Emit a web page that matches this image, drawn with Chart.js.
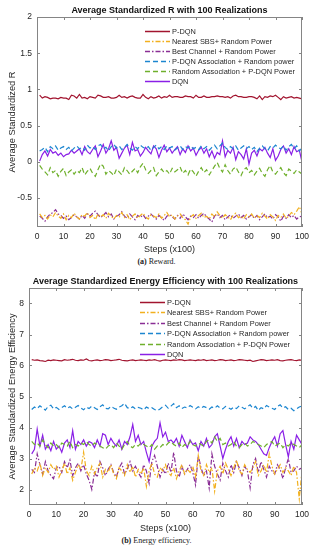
<!DOCTYPE html>
<html>
<head>
<meta charset="utf-8">
<script src="https://cdn.jsdelivr.net/npm/chart.js@4.4.1/dist/chart.umd.min.js"></script>
<style>
  body { margin: 0; background: #fff; width: 315px; height: 550px; position: relative; overflow: hidden; }
  canvas { position: absolute; left: 0; }
  .cap { position: absolute; left: 0; width: 313px; text-align: center; font: 8px 'Liberation Serif', 'DejaVu Serif', serif; color: #222; }
  .cap b { font-weight: bold; }
</style>
</head>
<body>
<canvas id="reward-chart" width="315" height="256" style="top:0"></canvas>
<div class="cap" style="top:257px"><b>(a)</b> Reward.</div>
<canvas id="ee-chart" width="315" height="265" style="top:270px"></canvas>
<div class="cap" style="top:536px"><b>(b)</b> Energy efficiency.</div>
<script>
// series names + styles (same for both panels)
const seriesNames = [
    'P-DQN',
    'Nearest SBS+ Random Power',
    'Best Channel + Random Power',
    'P-DQN Association + Random power',
    'Random Association + P-DQN Power',
    'DQN'
];
const seriesColors = ['#a2142f', '#f2b01e', '#8a2e95', '#1c86d0', '#6fb02c', '#8a1fe6'];
const seriesDash = [[], [5, 2, 1.5, 2], [5, 2, 1.5, 2], [5, 3], [5, 3], []];

const steps = Array.from({ length: 100 }, (_, i) => i + 1);
const xTicks = [0, 10, 20, 30, 40, 50, 60, 70, 80, 90, 100];

// (a) reward
const rewardTicks = [-0.5, 0, 0.5, 1, 1.5, 2];
const rewardPdqn = [
    0.92,0.88,0.90,0.89,0.87,0.88,0.88,0.87,0.89,0.88,
    0.88,0.86,0.92,0.91,0.88,0.93,0.88,0.89,0.87,0.90,
    0.89,0.88,0.92,0.91,0.89,0.89,0.90,0.88,0.88,0.89,
    0.92,0.89,0.90,0.88,0.90,0.91,0.89,0.88,0.88,0.93,
    0.89,0.87,0.90,0.88,0.89,0.91,0.88,0.90,0.89,0.92,
    0.89,0.90,0.90,0.89,0.89,0.91,0.90,0.90,0.88,0.92,
    0.89,0.89,0.91,0.89,0.89,0.90,0.90,0.91,0.90,0.90,
    0.89,0.90,0.88,0.91,0.92,0.90,0.90,0.89,0.89,0.90,
    0.90,0.89,0.87,0.91,0.86,0.90,0.89,0.91,0.90,0.92,
    0.89,0.86,0.90,0.88,0.89,0.90,0.88,0.89,0.88,0.87
];
const rewardNearest = [
    -0.72,-0.77,-0.74,-0.79,-0.73,-0.76,-0.70,-0.75,-0.78,-0.72,
    -0.80,-0.74,-0.77,-0.71,-0.76,-0.79,-0.73,-0.75,-0.70,-0.77,
    -0.74,-0.80,-0.72,-0.76,-0.73,-0.78,-0.71,-0.75,-0.79,-0.74,
    -0.76,-0.70,-0.77,-0.73,-0.80,-0.75,-0.72,-0.78,-0.74,-0.71,
    -0.76,-0.79,-0.73,-0.75,-0.77,-0.72,-0.78,-0.74,-0.70,-0.76,
    -0.73,-0.79,-0.75,-0.72,-0.77,-0.80,-0.86,-0.76,-0.73,-0.78,
    -0.74,-0.71,-0.77,-0.75,-0.79,-0.72,-0.76,-0.69,-0.74,-0.78,
    -0.73,-0.76,-0.80,-0.74,-0.71,-0.77,-0.75,-0.79,-0.73,-0.76,
    -0.72,-0.78,-0.74,-0.77,-0.71,-0.75,-0.79,-0.73,-0.76,-0.81,
    -0.74,-0.77,-0.72,-0.78,-0.75,-0.70,-0.73,-0.68,-0.62,-0.72
];
const rewardBest = [
    -0.75,-0.78,-0.82,-0.76,-0.72,-0.70,-0.66,-0.72,-0.74,-0.78,
    -0.75,-0.80,-0.77,-0.73,-0.76,-0.79,-0.74,-0.78,-0.72,-0.75,
    -0.71,-0.68,-0.73,-0.77,-0.74,-0.70,-0.76,-0.72,-0.79,-0.75,
    -0.73,-0.69,-0.75,-0.78,-0.72,-0.76,-0.80,-0.74,-0.77,-0.73,
    -0.78,-0.75,-0.72,-0.76,-0.79,-0.74,-0.77,-0.81,-0.75,-0.73,
    -0.76,-0.79,-0.74,-0.78,-0.72,-0.76,-0.80,-0.75,-0.77,-0.73,
    -0.78,-0.74,-0.71,-0.76,-0.79,-0.83,-0.75,-0.72,-0.77,-0.74,
    -0.80,-0.76,-0.73,-0.78,-0.75,-0.72,-0.77,-0.74,-0.79,-0.76,
    -0.73,-0.78,-0.74,-0.80,-0.76,-0.72,-0.77,-0.75,-0.79,-0.73,
    -0.76,-0.82,-0.75,-0.78,-0.73,-0.77,-0.74,-0.79,-0.76,-0.75
];
const rewardPdqnAssoc = [
    0.15,0.17,0.20,0.14,0.21,0.18,0.22,0.16,0.19,0.21,
    0.17,0.20,0.15,0.19,0.22,0.18,0.20,0.16,0.23,0.19,
    0.21,0.17,0.22,0.24,0.18,0.20,0.15,0.21,0.24,0.19,
    0.22,0.17,0.20,0.24,0.19,0.16,0.21,0.18,0.23,0.20,
    0.18,0.21,0.16,0.20,0.23,0.18,0.21,0.17,0.22,0.19,
    0.21,0.16,0.19,0.22,0.17,0.21,0.19,0.22,0.18,0.20,
    0.17,0.22,0.18,0.21,0.16,0.20,0.23,0.18,0.22,0.26,
    0.20,0.17,0.21,0.18,0.22,0.16,0.19,0.22,0.18,0.21,
    0.17,0.20,0.14,0.19,0.22,0.18,0.15,0.21,0.19,0.23,
    0.20,0.18,0.22,0.16,0.21,0.24,0.18,0.22,0.15,0.19
];
const rewardRandomAssoc = [
    -0.05,-0.10,-0.14,-0.18,-0.08,-0.15,-0.12,-0.20,-0.13,-0.09,
    -0.19,-0.14,-0.11,-0.17,-0.12,-0.15,-0.08,-0.18,-0.13,-0.09,
    -0.16,-0.20,-0.11,-0.03,-0.06,-0.17,-0.12,-0.15,-0.19,-0.10,
    -0.14,-0.18,-0.08,-0.12,-0.17,-0.13,-0.09,-0.15,-0.07,-0.02,
    -0.11,-0.16,-0.12,-0.08,-0.19,-0.14,-0.10,-0.15,-0.12,-0.17,
    -0.09,-0.14,-0.11,-0.07,-0.16,-0.12,-0.18,-0.10,-0.14,-0.20,
    -0.13,-0.08,-0.15,-0.11,-0.18,-0.12,-0.06,-0.01,-0.09,-0.14,
    -0.04,-0.12,-0.17,-0.10,-0.07,-0.14,-0.19,-0.11,-0.08,-0.15,
    -0.12,-0.18,-0.13,-0.09,-0.16,-0.20,-0.11,-0.05,-0.14,-0.17,
    -0.12,-0.08,-0.15,-0.19,-0.10,-0.13,-0.16,-0.11,-0.14,-0.17
];
const rewardDqn = [
    0.01,0.10,0.15,0.08,0.17,0.12,0.14,0.09,0.12,0.07,
    0.10,0.11,0.16,0.12,0.15,0.18,0.10,0.21,0.14,0.11,
    0.17,0.22,0.07,0.15,0.24,0.12,0.18,0.29,0.16,0.20,
    0.05,0.12,0.19,0.23,0.10,0.27,0.15,0.17,0.08,0.13,
    0.20,0.15,0.11,0.22,0.18,0.06,0.16,0.23,0.14,0.19,
    0.12,0.17,0.21,0.10,0.18,0.13,0.22,0.15,0.19,0.09,
    0.16,0.20,0.12,0.18,0.07,0.15,0.05,0.13,0.10,0.29,
    0.07,0.16,0.12,0.20,0.03,0.14,0.10,0.04,0.18,-0.03,
    0.12,0.16,0.08,0.18,0.15,0.20,0.12,0.06,0.18,0.02,
    0.08,0.17,0.22,0.12,0.18,0.10,0.21,0.14,0.16,0.00
];

// (b) energy efficiency
const eeTicks = [2, 3, 4, 5, 6, 7, 8];
const eePdqn = [
    6.19,6.17,6.18,6.16,6.15,6.13,6.17,6.16,6.18,6.17,
    6.16,6.15,6.19,6.17,6.18,6.20,6.17,6.16,6.18,6.17,
    6.21,6.16,6.15,6.17,6.18,6.16,6.17,6.19,6.18,6.16,
    6.17,6.18,6.20,6.17,6.16,6.15,6.17,6.18,6.16,6.17,
    6.18,6.17,6.16,6.18,6.17,6.19,6.16,6.14,6.17,6.18,
    6.17,6.16,6.18,6.17,6.19,6.18,6.16,6.17,6.18,6.17,
    6.16,6.18,6.17,6.19,6.16,6.17,6.18,6.16,6.17,6.19,
    6.18,6.16,6.17,6.18,6.16,6.17,6.19,6.18,6.17,6.16,
    6.17,6.13,6.15,6.17,6.19,6.18,6.16,6.17,6.18,6.17,
    6.19,6.16,6.15,6.17,6.18,6.19,6.17,6.16,6.18,6.17
];
const eeNearest = [
    2.50,2.70,2.60,2.85,2.45,2.70,2.55,2.80,2.65,2.75,
    2.40,2.60,2.85,2.50,2.70,2.30,2.55,2.80,2.65,3.20,
    2.60,2.45,2.75,2.50,2.70,2.85,2.40,2.65,2.55,2.80,
    2.50,2.35,2.70,2.60,2.45,2.80,2.55,2.75,2.40,2.65,
    2.50,2.70,2.10,2.60,2.85,2.50,2.40,2.70,2.60,2.80,
    2.55,2.45,2.70,2.35,2.60,2.80,2.50,2.65,2.55,2.75,
    2.40,3.10,2.60,2.45,2.80,2.55,2.70,1.95,2.60,2.75,
    2.50,2.85,2.65,2.45,2.70,2.95,2.60,2.50,2.80,2.65,
    2.55,2.70,2.90,2.45,2.60,2.80,2.55,3.15,2.75,2.50,
    2.65,2.80,2.55,2.70,2.60,2.45,2.75,2.55,1.70,2.60
];
const eeBest = [
    2.65,2.55,3.15,2.80,2.50,2.90,2.60,2.45,2.35,2.70,
    2.75,2.55,2.90,2.70,2.95,2.45,2.70,2.85,2.60,2.80,
    2.50,2.30,2.00,2.55,2.40,2.90,2.70,2.45,2.65,2.80,
    2.55,2.40,2.70,2.85,2.50,2.65,2.90,2.60,2.75,2.55,
    2.40,2.80,2.60,2.20,2.90,3.10,2.75,2.40,2.65,2.50,
    2.85,2.55,3.20,2.60,2.40,2.75,2.50,2.65,2.80,2.55,
    2.15,3.10,2.70,2.45,2.60,2.05,3.15,2.75,2.50,2.30,
    2.85,2.60,2.40,2.80,2.55,2.90,2.70,2.45,2.75,2.60,
    2.05,2.80,3.00,2.55,2.90,2.65,2.40,2.75,2.60,2.50,
    2.80,2.65,2.35,2.70,3.00,2.55,2.60,2.75,2.65,2.70
];
const eePdqnAssoc = [
    4.58,4.66,4.61,4.70,4.63,4.56,4.68,4.72,4.60,4.65,
    4.58,4.64,4.70,4.62,4.67,4.60,4.65,4.71,4.63,4.57,
    4.66,4.61,4.69,4.64,4.58,4.67,4.73,4.62,4.60,4.68,
    4.63,4.59,4.66,4.70,4.78,4.64,4.61,4.67,4.60,4.65,
    4.62,4.57,4.66,4.61,4.64,4.58,4.54,4.60,4.67,4.72,
    4.62,4.69,4.77,4.64,4.70,4.61,4.66,4.63,4.71,4.65,
    4.60,4.67,4.62,4.68,4.64,4.59,4.66,4.62,4.70,4.63,
    4.60,4.68,4.64,4.59,4.66,4.61,4.70,4.65,4.60,4.67,
    4.73,4.62,4.68,4.55,4.64,4.60,4.71,4.66,4.62,4.58,
    4.68,4.73,4.63,4.67,4.58,4.62,4.54,4.60,4.66,4.69
];
const eeRandomAssoc = [
    3.55,3.45,3.50,3.40,3.60,3.45,3.35,3.50,3.40,3.45,
    3.35,3.50,3.45,3.40,3.55,3.35,3.45,3.40,3.50,3.45,
    3.55,3.45,3.40,3.50,3.45,3.40,3.35,3.30,3.40,3.45,
    3.35,3.50,3.40,3.30,3.45,3.55,3.40,3.35,3.45,3.40,
    3.50,3.45,3.40,3.35,3.45,3.30,3.40,3.35,3.45,3.40,
    3.50,3.55,3.45,3.40,3.50,3.35,3.45,3.40,3.55,3.45,
    3.40,3.50,3.45,3.40,3.55,3.60,3.50,3.70,3.55,3.65,
    3.45,3.50,3.40,3.45,3.55,3.40,3.35,3.45,3.50,3.40,
    3.45,3.55,3.50,3.45,3.40,3.35,3.45,3.50,3.55,3.40,
    3.45,3.50,3.35,3.45,3.40,3.50,3.45,3.40,3.35,3.45
];
const eeDqn = [
    3.15,3.30,3.95,3.40,3.75,3.30,3.45,3.25,3.55,3.30,
    3.40,3.20,3.50,3.60,3.35,3.90,3.30,3.55,3.45,3.60,
    3.40,3.55,3.50,3.35,3.60,3.40,3.80,3.75,3.45,3.65,
    3.50,3.40,3.60,3.30,3.55,3.45,3.70,4.10,3.55,3.75,
    3.45,3.55,3.20,2.90,3.40,3.55,3.65,4.15,3.70,3.85,
    3.55,3.60,3.50,3.65,3.40,3.75,3.55,3.35,3.60,3.45,
    3.50,3.25,3.55,3.40,3.65,3.35,3.45,3.70,3.80,3.40,
    3.00,3.30,3.55,3.70,3.40,3.65,3.35,3.55,3.45,3.50,
    3.70,3.60,3.55,3.45,3.30,3.15,3.10,3.35,3.55,3.70,
    3.40,3.80,3.90,3.45,3.05,3.55,3.30,3.75,3.60,3.45
];

const FONT = "'Liberation Sans', Arial, sans-serif";
Chart.defaults.font.family = FONT;
Chart.defaults.color = '#262626';

/**
 * MATLAB style box with inward ticks on all four sides
 */
const boxTicks = {
    id: 'boxTicks',
    afterDatasetsDraw(chart) {
        const { ctx, chartArea: a, scales: { x, y } } = chart;
        ctx.save();
        ctx.strokeStyle = '#858585';
        ctx.lineWidth = 1;
        ctx.setLineDash([]);
        ctx.strokeRect(a.left + 0.5, a.top + 0.5, a.right - a.left - 1, a.bottom - a.top - 1);
        ctx.beginPath();
        for (const t of x.ticks) {
            const px = Math.round(x.getPixelForValue(t.value)) + 0.5;
            ctx.moveTo(px, a.bottom); ctx.lineTo(px, a.bottom - 3);
            ctx.moveTo(px, a.top); ctx.lineTo(px, a.top + 3);
        }
        for (const t of y.ticks) {
            const py = Math.round(y.getPixelForValue(t.value)) + 0.5;
            ctx.moveTo(a.left, py); ctx.lineTo(a.left + 3, py);
            ctx.moveTo(a.right, py); ctx.lineTo(a.right - 3, py);
        }
        ctx.stroke();
        ctx.restore();
    }
};

/**
 * title centred over the plot area + legend inside it
 */
const insideLegend = {
    id: 'insideLegend',
    afterDraw(chart, args, opts) {
        const { ctx, chartArea: a } = chart;
        ctx.save();
        ctx.textBaseline = 'middle';
        ctx.textAlign = 'center';
        ctx.fillStyle = '#111';
        ctx.font = `bold 9px ${FONT}`;
        ctx.fillText(opts.title, (a.left + a.right) / 2, opts.titleY);

        ctx.textAlign = 'left';
        ctx.font = `7.4px ${FONT}`;
        chart.data.datasets.forEach((ds, i) => {
            const x0 = a.left + opts.left;
            const y0 = Math.round(a.top + opts.top + i * opts.step) + 0.5;
            ctx.strokeStyle = ds.borderColor;
            ctx.lineWidth = 1.5;
            ctx.setLineDash(ds.borderDash);
            ctx.beginPath();
            ctx.moveTo(x0, y0);
            ctx.lineTo(x0 + opts.len, y0);
            ctx.stroke();
            ctx.fillStyle = '#262626';
            ctx.fillText(ds.label, x0 + opts.len + 2, y0);
        });
        ctx.restore();
    }
};

function makeDatasets(series) {
    return series.map((vals, i) => ({
        label: seriesNames[i],
        data: vals.map((v, j) => ({ x: steps[j], y: v })),
        borderColor: seriesColors[i],
        borderDash: seriesDash[i],
        borderWidth: 1.2,
        pointRadius: 0,
        tension: 0,
        fill: false,
    }));
}

function makeChart(id, cfg) {
    return new Chart(document.getElementById(id), {
        type: 'line',
        data: { datasets: makeDatasets(cfg.series) },
        plugins: [boxTicks, insideLegend],
        options: {
            responsive: false,
            animation: false,
            layout: { padding: { left: 0, right: 13, top: cfg.top, bottom: 0 } },
            plugins: {
                legend: { display: false },
                tooltip: { enabled: false },
                title: { display: false },
                insideLegend: cfg.legend,
            },
            scales: {
                x: {
                    type: 'linear',
                    min: 0,
                    max: 100,
                    afterBuildTicks: (s) => { s.ticks = xTicks.map(v => ({ value: v })); },
                    afterFit: (s) => { s.height = cfg.xHeight; },
                    grid: { display: false, drawTicks: false },
                    border: { display: false },
                    ticks: { font: { size: 8.5 }, padding: 5, color: '#262626', maxRotation: 0 },
                    title: { display: true, text: 'Steps (x100)', font: { size: 9 }, padding: { top: 0, bottom: 1 } },
                },
                y: {
                    min: cfg.yMin,
                    max: cfg.yMax,
                    afterBuildTicks: (s) => { s.ticks = cfg.yTicks.map(v => ({ value: v })); },
                    afterFit: (s) => { s.width = cfg.yWidth; },
                    grid: { display: false, drawTicks: false },
                    border: { display: false },
                    ticks: { font: { size: 8.5 }, padding: 5, color: '#262626', callback: (v) => String(v) },
                    title: { display: true, text: cfg.yTitle, font: { size: 9.3 }, padding: { top: 7, bottom: 0 } },
                },
            },
        },
    });
}

makeChart('reward-chart', {
    top: 17,
    yTitle: 'Average Standardized R',
    yMin: -0.9, yMax: 2, yTicks: rewardTicks,
    yWidth: 37, xHeight: 29,
    legend: { title: 'Average Standardized R with 100 Realizations', titleY: 11, left: 108, top: 14, step: 10, len: 25 },
    series: [rewardPdqn, rewardNearest, rewardBest, rewardPdqnAssoc, rewardRandomAssoc, rewardDqn],
});

makeChart('ee-chart', {
    top: 18,
    yTitle: 'Average Standardized Energy Efficiency',
    yMin: 1.5, yMax: 8.5, yTicks: eeTicks,
    yWidth: 29, xHeight: 30,
    legend: { title: 'Average Standardized Energy Efficiency with 100 Realizations', titleY: 12, left: 111, top: 14, step: 10.4, len: 25 },
    series: [eePdqn, eeNearest, eeBest, eePdqnAssoc, eeRandomAssoc, eeDqn],
});
</script>
</body>
</html>
